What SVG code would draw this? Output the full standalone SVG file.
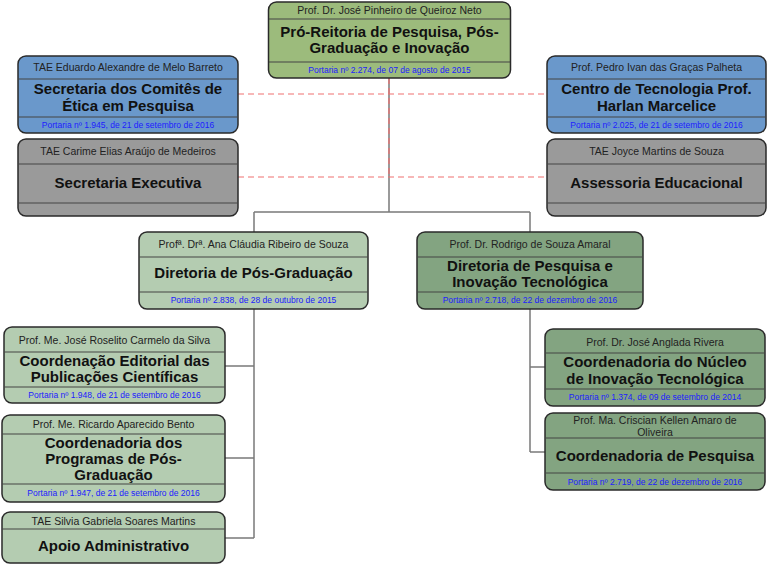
<svg xmlns="http://www.w3.org/2000/svg" width="768" height="565" viewBox="0 0 768 565">
<style>
.box{stroke:#2a2a2a;stroke-width:1.5}
.sep{stroke:#444;stroke-width:1.2}
.g1{fill:#9cbb7c}.bl{fill:#6a98cb}.gr{fill:#9a9a9a}.lg{fill:#b4ccb1}.dg{fill:#83a481}
text{font-family:"Liberation Sans",Arial,sans-serif;text-anchor:middle;fill:#111}
.h{font-size:10.5px;fill:#222}
.t{font-size:15px;font-weight:bold}
.p{font-size:8.5px;fill:#2020ff}
.con{stroke:#7a7a7a;stroke-width:1.5;fill:none}
.dash{stroke:#f07070;stroke-width:1.2;stroke-dasharray:6 4;fill:none}
</style>
<rect width="768" height="565" fill="#fff"/>
<g id="connectors">
<path class="con" d="M389 78V212M254 212H530M254 212V232M530 212V232"/>
<path class="con" d="M254 309V538M225 366H254M225 458H254M225 538H254"/>
<path class="con" d="M530 309V452M530 367H545M530 452H545"/>
<path class="dash" d="M389 78V177M238 94H547M238 177H547"/>
</g>
<g id="pro-reitoria">
<rect class="box g1" x="268.5" y="2" width="242" height="76" rx="8"/>
<path class="sep" d="M269 19H510M269 62H510"/>
<text class="h" x="389.5" y="14">Prof. Dr. José Pinheiro de Queiroz Neto</text>
<text class="t" x="389.5" y="37">Pró-Reitoria de Pesquisa, Pós-</text>
<text class="t" x="389.5" y="53">Graduação e Inovação</text>
<text class="p" x="389.5" y="73">Portaria nº 2.274, de 07 de agosto de 2015</text>
</g>
<g id="comites">
<rect class="box bl" x="18" y="56" width="220" height="77" rx="8"/>
<path class="sep" d="M18 79H238M18 117H238"/>
<text class="h" x="128" y="71">TAE Eduardo Alexandre de Melo Barreto</text>
<text class="t" x="128" y="94">Secretaria dos Comitês de</text>
<text class="t" x="128" y="111">Ética em Pesquisa</text>
<text class="p" x="128" y="128">Portaria nº 1.945, de 21 de setembro de 2016</text>
</g>
<g id="sec-executiva">
<rect class="box gr" x="18" y="139" width="220" height="77" rx="8"/>
<path class="sep" d="M18 164H238M18 203H238"/>
<text class="h" x="128" y="155">TAE Carime Elias Araújo de Medeiros</text>
<text class="t" x="128" y="188">Secretaria Executiva</text>
</g>
<g id="centro-tecnologia">
<rect class="box bl" x="547" y="56" width="219" height="77" rx="8"/>
<path class="sep" d="M547 79H766M547 117H766"/>
<text class="h" x="656.5" y="71">Prof. Pedro Ivan das Graças Palheta</text>
<text class="t" x="656.5" y="94">Centro de Tecnologia Prof.</text>
<text class="t" x="656.5" y="111">Harlan Marcelice</text>
<text class="p" x="656.5" y="128">Portaria nº 2.025, de 21 de setembro de 2016</text>
</g>
<g id="assessoria">
<rect class="box gr" x="547" y="139" width="219" height="77" rx="8"/>
<path class="sep" d="M547 164H766M547 203H766"/>
<text class="h" x="656.5" y="155">TAE Joyce Martins de Souza</text>
<text class="t" x="656.5" y="188">Assessoria Educacional</text>
</g>
<g id="dir-pos">
<rect class="box lg" x="139" y="232" width="229" height="77" rx="8"/>
<path class="sep" d="M139 257H368M139 292H368"/>
<text class="h" x="253.5" y="248">Profª. Drª. Ana Cláudia Ribeiro de Souza</text>
<text class="t" x="253.5" y="278">Diretoria de Pós-Graduação</text>
<text class="p" x="253.5" y="303">Portaria nº 2.838, de 28 de outubro de 2015</text>
</g>
<g id="dir-pesquisa">
<rect class="box dg" x="417" y="232" width="226" height="77" rx="8"/>
<path class="sep" d="M417 257H643M417 292H643"/>
<text class="h" x="530" y="248">Prof. Dr. Rodrigo de Souza Amaral</text>
<text class="t" x="530" y="271">Diretoria de Pesquisa e</text>
<text class="t" x="530" y="287">Inovação Tecnológica</text>
<text class="p" x="530" y="303">Portaria nº 2.718, de 22 de dezembro de 2016</text>
</g>
<g id="coord-editorial">
<rect class="box lg" x="4" y="327" width="221" height="76" rx="8"/>
<path class="sep" d="M4 352H225M4 387H225"/>
<text class="h" x="114.5" y="344">Prof. Me. José Roselito Carmelo da Silva</text>
<text class="t" x="114.5" y="366">Coordenação Editorial das</text>
<text class="t" x="114.5" y="382">Publicações Científicas</text>
<text class="p" x="114.5" y="398">Portaria nº 1.948, de 21 de setembro de 2016</text>
</g>
<g id="coord-programas">
<rect class="box lg" x="2" y="415" width="223" height="87" rx="8"/>
<path class="sep" d="M2 434H225M2 484H225"/>
<text class="h" x="113.5" y="428">Prof. Me. Ricardo Aparecido Bento</text>
<text class="t" x="113.5" y="448">Coordenadoria dos</text>
<text class="t" x="113.5" y="464">Programas de Pós-</text>
<text class="t" x="113.5" y="480">Graduação</text>
<text class="p" x="113.5" y="496">Portaria nº 1.947, de 21 de setembro de 2016</text>
</g>
<g id="apoio">
<rect class="box lg" x="2" y="512" width="223" height="51" rx="8"/>
<path class="sep" d="M2 529H225"/>
<text class="h" x="113.5" y="524.5">TAE Silvia Gabriela Soares Martins</text>
<text class="t" x="113.5" y="551">Apoio Administrativo</text>
</g>
<g id="coord-nucleo">
<rect class="box dg" x="545" y="329" width="220" height="77" rx="8"/>
<path class="sep" d="M545 353H765M545 389H765"/>
<text class="h" x="655" y="345.5">Prof. Dr. José Anglada Rivera</text>
<text class="t" x="655" y="367">Coordenadoria do Núcleo</text>
<text class="t" x="655" y="384">de Inovação Tecnológica</text>
<text class="p" x="655" y="400">Portaria nº 1.374, de 09 de setembro de 2014</text>
</g>
<g id="coord-pesquisa">
<rect class="box dg" x="545" y="413" width="220" height="77" rx="8"/>
<path class="sep" d="M545 438H765M545 473H765"/>
<text class="h" x="655" y="424">Prof. Ma. Criscian Kellen Amaro de</text>
<text class="h" x="655" y="435.5">Oliveira</text>
<text class="t" x="655" y="461">Coordenadoria de Pesquisa</text>
<text class="p" x="655" y="485">Portaria nº 2.719, de 22 de dezembro de 2016</text>
</g>
</svg>
